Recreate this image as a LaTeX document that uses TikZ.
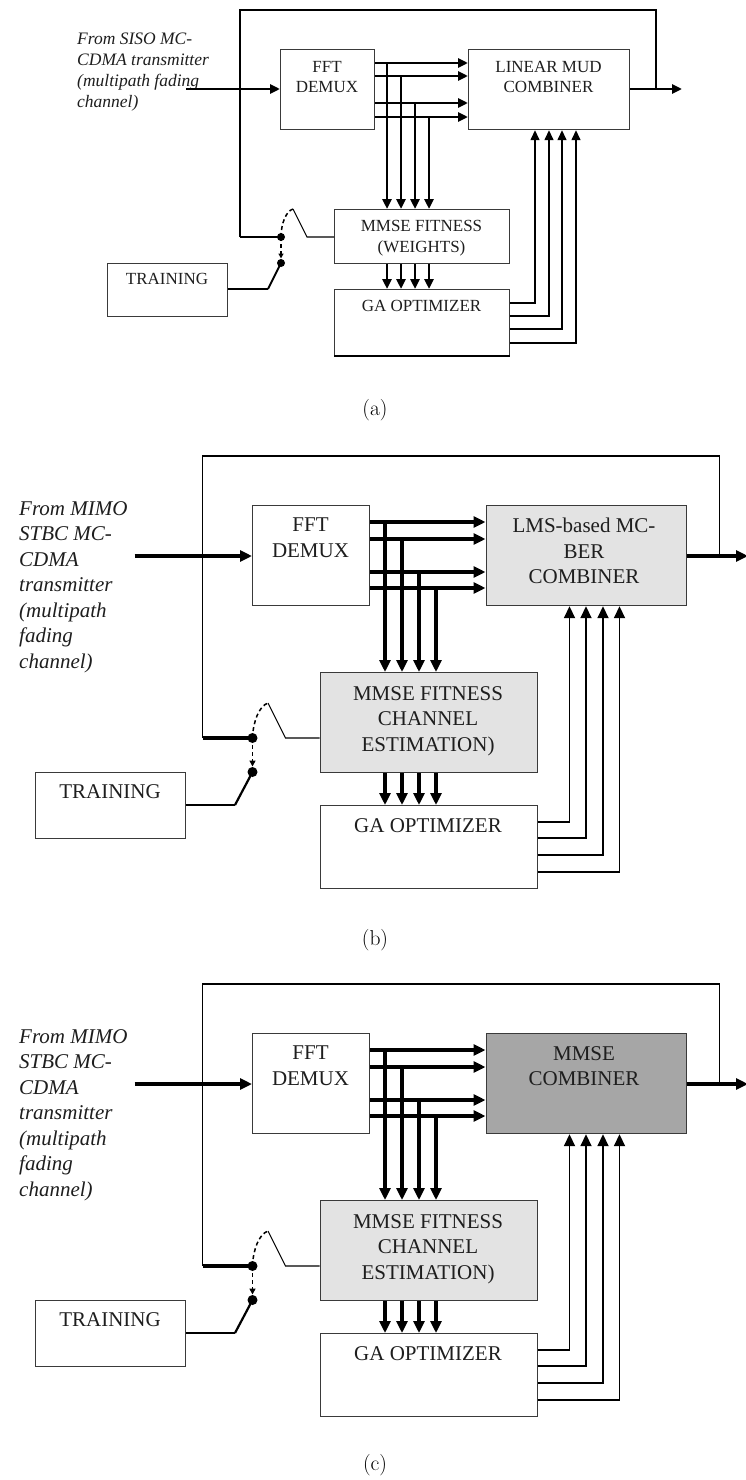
\documentclass[tikz,border=0pt]{standalone}
\usepackage{fontspec}
\newfontfamily\tnr{Liberation Serif}
\usetikzlibrary{arrows.meta,calc}

\definecolor{boxline}{HTML}{3A3A3A}
\definecolor{txt}{HTML}{1E1E1E}
\definecolor{lgray}{HTML}{E3E3E3}
\definecolor{dgray}{HTML}{A6A6A6}

\tikzset{
  blk/.style={draw=boxline, line width=1.2pt, inner sep=0pt, anchor=north west},
  atxt/.style={font=\tnr\fontsize{17}{20.3}\selectfont, align=center, inner sep=0pt, text=txt, anchor=north},
  aital/.style={font=\tnr\itshape\fontsize{17.5}{20.8}\selectfont, align=left, inner sep=0pt, text=txt, anchor=north west},
  btxt/.style={font=\tnr\fontsize{21}{25.5}\selectfont, align=center, inner sep=0pt, text=txt, anchor=north},
  bital/.style={font=\tnr\itshape\fontsize{21}{25.5}\selectfont, align=left, inner sep=0pt, text=txt, anchor=north west},
  captxt/.style={font=\fontsize{21.5}{25}\selectfont, inner sep=0pt},
  aarr/.style={line width=2.6pt, -{Triangle[length=10pt,width=9pt]}},
  barr/.style={line width=3.2pt, -{Triangle[length=12pt,width=11pt]}},
  aoutl/.style={line width=1.4pt, -{Triangle[length=10pt,width=9pt]}},
  boutl/.style={line width=1.8pt, -{Triangle[length=12pt,width=11pt]}},
  wire/.style={line width=1.1pt},
  dashw/.style={line width=1.5pt, dash pattern=on 4pt off 3pt},
}

\newcommand\bcpanel[4]{%
\begin{scope}[shift={(0,#2)}]
\node[blk,minimum width=117pt,minimum height=100pt] (#1fft) at (252,505) {};
\node[blk,fill=#3,minimum width=200pt,minimum height=100pt] (#1comb) at (485.5,505) {};
\node[blk,fill=lgray,minimum width=217pt,minimum height=100pt] (#1mmse) at (319.5,672) {};
\node[blk,minimum width=217pt,minimum height=83pt] (#1ga) at (319.5,805) {};
\node[blk,minimum width=150pt,minimum height=66pt] (#1train) at (35,772) {};
\node[btxt] (#1fftT) at (310.5,518) {FFT\\DEMUX};
\node[btxt] (#1combT) at (584,518) {#4};
\node[btxt] (#1mmseT) at (428,686.3) {MMSE FITNESS\\CHANNEL\\ESTIMATION)};
\node[btxt] (#1trainT) at (110,784.7) {TRAINING};
\node[btxt] (#1gaT) at (428,818.7) {GA OPTIMIZER};
\node[bital] (#1src) at (19,501) {From MIMO\\STBC MC-\\CDMA\\transmitter\\(multipath\\fading\\channel)};
\coordinate (#1TL) at (202.5,456);
\coordinate (#1TR) at (719.5,456);
\coordinate (#1In) at (134.5,556);
\coordinate (#1Out) at (748,556);
\coordinate (#1D1) at (252.5,738);
\coordinate (#1D2) at (252.5,772);
\coordinate (#1Pk) at (268,703);
\coordinate (#1Ft) at (285.5,738);
\coordinate (#1Tl) at (235,805);
\draw[barr] (#1In) -- (#1In -| #1fft.west);
\draw[barr] (#1comb.east |- #1Out) -- (#1Out);
\draw[wire] (#1D1 -| #1TL) -- (#1TL) -- (#1TR) -- (#1TR |- #1Out);
\draw[line width=3.2pt] (#1D1 -| #1TL) -- (#1D1);
\draw[dashw] (#1D1) .. controls (253,722) and (259,706) .. (#1Pk);
\draw[wire] (#1Pk) -- (#1Ft) -- (#1Ft -| #1mmse.west);
\draw[dashw,-{Triangle[length=6pt,width=6pt]}] (#1D1) -- ($(#1D2)+(0,-5.5)$);
\draw[wire] (#1Tl -| #1train.east) -- (#1Tl);
\draw[line width=2.2pt] (#1Tl) -- (#1D2);
\fill (#1D1) circle[radius=5pt];
\fill (#1D2) circle[radius=5pt];
\foreach \yy/\xx [count=\i] in {522/385,539/402,572/419,588/436}{
  \coordinate (#1T\i) at (\xx,\yy);
  \draw[barr] (#1T\i -| #1fft.east) -- (#1T\i -| #1comb.west);
  \draw[barr] (#1T\i) -- (#1T\i |- #1mmse.north);
  \draw[barr] (#1T\i |- #1mmse.south) -- (#1T\i |- #1ga.north);
}
\foreach \yy/\xx [count=\i] in {822/569.5,838/586,855/603,872/619.5}{
  \coordinate (#1G\i) at (\xx,\yy);
  \draw[boutl] (#1G\i -| #1ga.east) -- (#1G\i) -- (#1G\i |- #1comb.south);
}
\end{scope}}

\begin{document}
\begin{tikzpicture}[x=1pt,y=-1pt]
\useasboundingbox (0,0) rectangle (745,1480);
\fill[white] (0,0) rectangle (745,1480);

% ---------------- panel (a) ----------------
\node[blk,minimum width=94pt,minimum height=80pt] (afft) at (280,49) {};
\node[blk,minimum width=161pt,minimum height=80pt] (acomb) at (468,49) {};
\node[blk,minimum width=175pt,minimum height=54pt] (ammse) at (334,209) {};
\node[blk,minimum width=175pt,minimum height=66pt] (aga) at (334,289) {};
\node[blk,minimum width=120pt,minimum height=53pt] (atrain) at (107,263) {};
\draw[line width=2.2pt] (aga.south west) -- (aga.south east);
\node[atxt] (afftT) at (327,61.2) {FFT\\DEMUX};
\node[atxt] (acombT) at (548.5,61.2) {LINEAR MUD\\COMBINER};
\node[atxt] (ammseT) at (421.5,220.4) {MMSE FITNESS\\(WEIGHTS)};
\node[atxt] (atrainT) at (167,273.4) {TRAINING};
\node[atxt] (agaT) at (421.5,300.4) {GA OPTIMIZER};
\node[aital] (asrc) at (77,33.2) {From SISO MC-\\CDMA transmitter\\(multipath fading\\channel)};

\coordinate (aTL) at (240,10);
\coordinate (aTR) at (656,10);
\coordinate (aIn) at (186,89);
\coordinate (aOut) at (682,89);
\coordinate (aD1) at (281,237);
\coordinate (aD2) at (281,263);
\coordinate (aPk) at (293,209);
\coordinate (aFt) at (307,237);
\coordinate (aTl) at (268,289);

\draw[aarr] (aIn) -- (aIn -| afft.west);
\draw[aarr] (acomb.east |- aOut) -- (aOut);
\draw[wire] (aD1 -| aTL) -- (aTL) -- (aTR) -- (aTR |- aOut);
\draw[line width=2.6pt] (aD1 -| aTL) -- (aD1);
\draw[dashw] (aD1) .. controls (281,224) and (286,211) .. (aPk);
\draw[wire] (aPk) -- (aFt) -- (aFt -| ammse.west);
\draw[dashw,-{Triangle[length=5pt,width=5pt]}] (aD1) -- ($(aD2)+(0,-4.5)$);
\draw[wire] (aTl -| atrain.east) -- (aTl);
\draw[line width=1.8pt] (aTl) -- (aD2);
\fill (aD1) circle[radius=4pt];
\fill (aD2) circle[radius=4pt];

\foreach \yy/\xx [count=\i] in {63/387,76/401,103/415,117/429}{
  \coordinate (aT\i) at (\xx,\yy);
  \draw[aarr] (aT\i -| afft.east) -- (aT\i -| acomb.west);
  \draw[aarr] (aT\i) -- (aT\i |- ammse.north);
  \draw[aarr] (aT\i |- ammse.south) -- (aT\i |- aga.north);
}
\foreach \yy/\xx [count=\i] in {303/535,316/549,329/562,343/576}{
  \coordinate (aG\i) at (\xx,\yy);
  \draw[aoutl] (aG\i -| aga.east) -- (aG\i) -- (aG\i |- acomb.south);
}
\node[captxt] (capa) at (375,410) {(a)};

% ---------------- panel (b) ----------------
\bcpanel{b}{0}{lgray}{LMS-based MC-\\BER\\COMBINER}
\node[captxt] (capb) at (375,940) {(b)};

% ---------------- panel (c) ----------------
\bcpanel{c}{528}{dgray}{MMSE\\COMBINER}
\node[captxt] (capc) at (375,1465) {(c)};
\end{tikzpicture}
\end{document}
